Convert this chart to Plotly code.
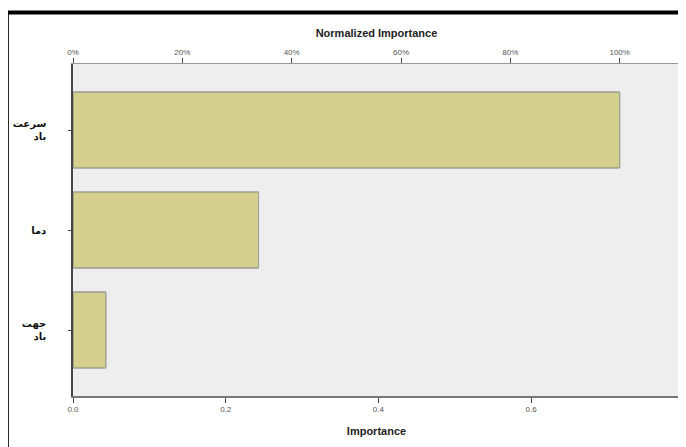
import plotly.graph_objects as go

categories = ["سرعت<br>باد", "دما", "جهت<br>باد"]
importance = [0.716, 0.243, 0.043]
max_imp = max(importance)
normalized = [v / max_imp * 100 for v in importance]

bottom_ticks = [0.0, 0.2, 0.4, 0.6]
bottom_labels = ["0.0", "0.2", "0.4", "0.6"]
top_ticks = [0, 20, 40, 60, 80, 100]
top_labels = ["0%", "20%", "40%", "60%", "80%", "100%"]

x_max = 0.795

fig = go.Figure()
fig.add_trace(go.Bar(
    y=categories, x=importance, orientation="h",
    marker=dict(color="#d5d08e", line=dict(color="#55553c", width=1)),
    width=0.76, xaxis="x", yaxis="y", showlegend=False, hoverinfo="x+y",
))
fig.add_trace(go.Bar(
    y=categories, x=normalized, orientation="h",
    marker=dict(color="rgba(0,0,0,0)"), width=0.76,
    xaxis="x2", yaxis="y", showlegend=False, hoverinfo="skip",
))

fig.update_layout(
    width=686, height=447,
    margin=dict(l=65, r=14, t=56, b=59),
    paper_bgcolor="white",
    plot_bgcolor="#eeeeee",
    barmode="overlay",
    font=dict(family="Liberation Sans, Arial, sans-serif", color="#222"),
    xaxis=dict(
        range=[0, x_max], tickvals=bottom_ticks, ticktext=bottom_labels,
        ticks="outside", ticklen=5, tickcolor="#444", tickwidth=1,
        tickfont=dict(size=8, color="#555"),
        showgrid=False, zeroline=False, automargin=False,
        showline=True, linecolor="#777", linewidth=1.5, mirror=False,
        title=dict(text="<b>Importance</b>", font=dict(size=11, color="#222"), standoff=14),
    ),
    xaxis2=dict(
        overlaying="x", side="top",
        range=[0, x_max / max_imp * 100], tickvals=top_ticks, ticktext=top_labels,
        ticks="outside", ticklen=5, tickcolor="#444", tickwidth=1,
        tickfont=dict(size=8, color="#555"),
        showgrid=False, zeroline=False, automargin=False,
        showline=True, linecolor="#999", linewidth=1,
        title=dict(text="<b>Normalized Importance</b>", font=dict(size=11, color="#222"), standoff=7),
    ),
    yaxis=dict(
        categoryorder="array", categoryarray=categories,
        ticktext=["<b>" + c + "</b>" for c in categories], tickvals=categories,
        range=[2.66, -0.66],
        ticks="outside", ticklen=3, tickcolor="#444",
        ticklabelstandoff=20, automargin=False,
        tickfont=dict(size=10, color="#111", family="DejaVu Sans"),
        showgrid=False, zeroline=False,
        showline=True, linecolor="#444", linewidth=1.5,
    ),
    shapes=[
        dict(type="line", xref="paper", yref="paper", x0=1, x1=1, y0=0, y1=1,
             line=dict(color="#999", width=1.5)),
        dict(type="line", xref="paper", yref="paper", x0=-0.109, x1=-0.109, y0=-0.2, y1=1.155,
             line=dict(color="black", width=4)),
        dict(type="line", xref="paper", yref="paper", x0=-0.109, x1=1.02, y0=1.155, y1=1.155,
             line=dict(color="black", width=4)),
    ],
)

fig.write_html("out.html")
